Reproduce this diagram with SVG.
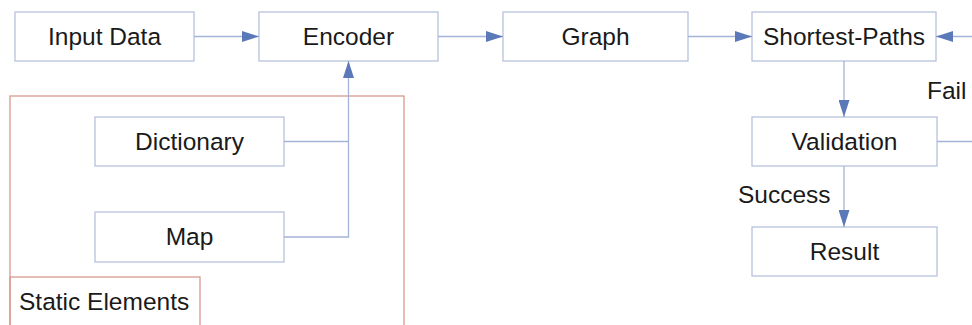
<svg xmlns="http://www.w3.org/2000/svg" width="972" height="325" viewBox="0 0 972 325">
<style>
.box{fill:#fff;stroke:#b7c2dd;stroke-width:1.3}
.grp{fill:none;stroke:#d99a90;stroke-width:1.3}
.t{font-family:"Liberation Sans",Arial,sans-serif;font-size:24.5px;fill:#1a1a1a;text-anchor:middle}
.l{font-family:"Liberation Sans",Arial,sans-serif;font-size:24.5px;fill:#1a1a1a}
.c{fill:none;stroke:#a5b3d8;stroke-width:1.3}
</style>
<defs>
<marker id="ah" viewBox="0 0 17 11" refX="17" refY="5.5" markerWidth="17" markerHeight="11" markerUnits="userSpaceOnUse" orient="auto">
<path d="M0,0 L17,5.5 L0,11 Z" fill="#5b78b8"/>
</marker>
</defs>
<rect width="972" height="325" fill="#fff"/>
<g id="static-elements">
<rect class="grp" x="10" y="96" width="394" height="240"/>
<rect class="grp" x="10" y="277" width="190" height="60"/>
<text class="l" x="19" y="310">Static Elements</text>
</g>
<g id="input-data"><rect class="box" x="15" y="12" width="179" height="49"/><text class="t" x="104.5" y="45">Input Data</text></g>
<g id="encoder"><rect class="box" x="259" y="12" width="179" height="49"/><text class="t" x="348.5" y="45">Encoder</text></g>
<g id="graph"><rect class="box" x="503" y="12" width="185" height="49"/><text class="t" x="595.5" y="45">Graph</text></g>
<g id="shortest-paths"><rect class="box" x="752" y="12" width="184" height="49"/><text class="t" x="844" y="45">Shortest-Paths</text></g>
<g id="validation"><rect class="box" x="752" y="117" width="185" height="49"/><text class="t" x="844.5" y="150">Validation</text></g>
<g id="result"><rect class="box" x="752" y="227" width="185" height="49"/><text class="t" x="844.5" y="260">Result</text></g>
<g id="dictionary"><rect class="box" x="95" y="117" width="189" height="49"/><text class="t" x="189.5" y="150">Dictionary</text></g>
<g id="map"><rect class="box" x="95" y="212" width="189" height="50"/><text class="t" x="189.5" y="245">Map</text></g>
<g id="connectors">
<path class="c" d="M194,36.5 H259" marker-end="url(#ah)"/>
<path class="c" d="M438,36.5 H503" marker-end="url(#ah)"/>
<path class="c" d="M688,36.5 H752" marker-end="url(#ah)"/>
<path class="c" d="M972,36.5 H936" marker-end="url(#ah)"/>
<path class="c" d="M844,61 V117" marker-end="url(#ah)"/>
<path class="c" d="M844,166 V227" marker-end="url(#ah)"/>
<path class="c" d="M937,141.5 H972"/>
<path class="c" d="M284,141.5 H348.5"/>
<path class="c" d="M284,237 H348.5 V61" marker-end="url(#ah)"/>
<text class="l" x="927" y="99">Fail</text>
<text class="l" x="738" y="203">Success</text>
</g>
</svg>
